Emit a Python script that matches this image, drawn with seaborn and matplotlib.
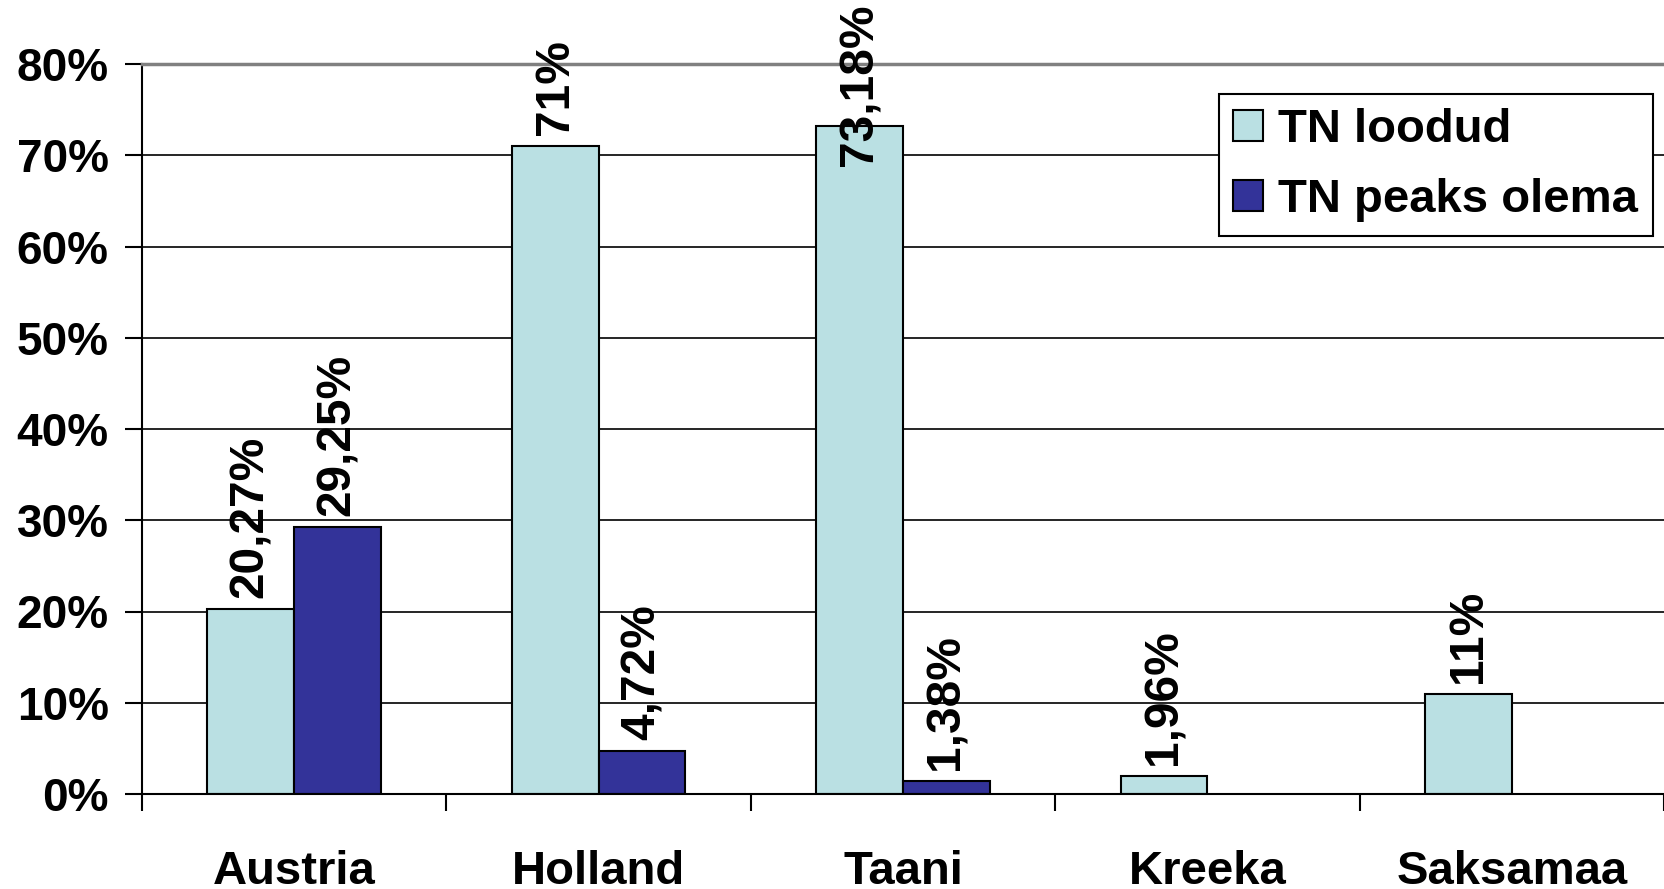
import matplotlib
matplotlib.use("Agg")
import matplotlib.pyplot as plt
import seaborn as sns
import pandas as pd

# data
countries = ["Austria", "Holland", "Taani", "Kreeka", "Saksamaa"]
series = ["TN loodud", "TN peaks olema"]
loodud = [20.27, 71, 73.18, 1.96, 11]
peaks_olema = [29.25, 4.72, 1.38, None, None]
loodud_labels = ["20,27%", "71%", "73,18%", "1,96%", "11%"]
peaks_labels = ["29,25%", "4,72%", "1,38%"]
yticks = [0, 10, 20, 30, 40, 50, 60, 70, 80]

df = pd.DataFrame({
    "Riik": countries * 2,
    "Seeria": [series[0]] * len(countries) + [series[1]] * len(countries),
    "Osakaal": loodud + peaks_olema,
}).dropna()

sns.set_style("white")
plt.rcParams["font.family"] = ["Liberation Sans", "DejaVu Sans"]
plt.rcParams["font.weight"] = "bold"
plt.rcParams["text.color"] = "black"
plt.rcParams["xtick.color"] = "black"
plt.rcParams["ytick.color"] = "black"

W, H = 1664, 889
fig = plt.figure(figsize=(W / 100, H / 100), dpi=100)
ax = fig.add_axes([142 / W, 95 / H, 1522 / W, 730 / H])

sns.barplot(data=df, x="Riik", y="Osakaal", hue="Seeria", order=countries,
            hue_order=series, palette=["#BAE0E3", "#333399"], saturation=1,
            width=0.57, edgecolor="black", linewidth=1.5, errorbar=None, ax=ax)

ax.set_xlim(-0.5, 4.474)
ax.set_ylim(0, 80)
ax.set_xlabel("")
ax.set_ylabel("")

# gridlines and frame
ax.set_axisbelow(True)
ax.yaxis.grid(True, color="black", linewidth=1.2)
ax.xaxis.grid(False)
ax.spines["right"].set_visible(False)
ax.spines["top"].set_color("#808080")
ax.spines["top"].set_linewidth(2.5)
for s in ["left", "bottom"]:
    ax.spines[s].set_color("black")
    ax.spines[s].set_linewidth(1.5)

# y axis
ax.set_yticks(yticks)
ax.set_yticklabels([f"{v}%" for v in yticks])
ax.tick_params(axis="y", direction="out", length=12, width=1.5, color="black",
               pad=12, labelsize=33, labelcolor="black", left=True)

# x axis: labels at centres, tick marks between categories
ax.set_xticks(range(len(countries)))
ax.set_xticklabels(countries)
ax.set_xticks([i - 0.5 for i in range(len(countries) + 1)], minor=True)
ax.tick_params(axis="x", which="major", length=0, pad=40, labelsize=34,
               labelcolor="black")
ax.tick_params(axis="x", which="minor", direction="out", length=12, width=1.5,
               color="black", bottom=True)

# value labels
anns = []
for cont, labs in zip(ax.containers, [loodud_labels, peaks_labels]):
    anns += ax.bar_label(cont, labels=labs, rotation=90, padding=8,
                         fontsize=34.5, fontweight="bold", color="black")

# legend
handles, labels = ax.get_legend_handles_labels()
for h in handles:
    h.set_edgecolor("black")
    h.set_linewidth(1.5)
leg = ax.legend(handles, labels, loc="upper left",
                bbox_to_anchor=(1219 / W, 1 - 94 / H), bbox_transform=fig.transFigure,
                borderaxespad=0, fontsize=34, frameon=True, fancybox=False,
                framealpha=1, edgecolor="black", handlelength=0.64,
                handleheight=0.64, handletextpad=0.32, labelspacing=0.55,
                borderpad=0.3)
leg.get_frame().set_linewidth(1.5)
for t in leg.get_texts():
    t.set_color("black")

# keep labels inside the picture, like the original does
fig.canvas.draw()
renderer = fig.canvas.get_renderer()
for a in anns:
    bb = a.get_window_extent(renderer)
    if bb.y1 > H - 3:
        dx, dy = a.xyann
        a.xyann = (dx, dy - (bb.y1 - (H - 3)) * 72 / 100)

fig.savefig("out.png", dpi=100)
